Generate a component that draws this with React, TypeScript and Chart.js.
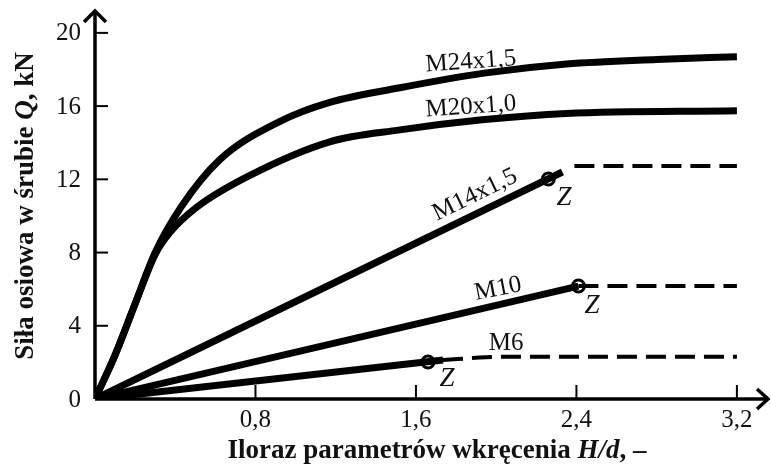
import { useEffect, useRef } from 'react';
import { Chart, registerables } from 'chart.js';

Chart.register(...registerables);

// ---- data ----
const X_TICKS = [0.8, 1.6, 2.4, 3.2];
const Y_TICKS = [0, 4, 8, 12, 16, 20];

const M24_X = [0, 0.1, 0.2, 0.3, 0.43, 0.62, 0.92, 1.17, 1.52, 1.94, 2.35, 2.8, 3.2];
const M24_Y = [0, 2.4, 5.2, 8.0, 10.5, 13.05, 15.15, 16.2, 17.0, 17.8, 18.3, 18.55, 18.7];

const M20_X = [0, 0.1, 0.2, 0.3, 0.37, 0.51, 0.76, 1.17, 1.52, 1.93, 2.35, 3.2];
const M20_Y = [0, 2.4, 5.2, 7.9, 9.05, 10.5, 12.15, 14.05, 14.7, 15.25, 15.6, 15.75];

const M14_SOLID_X = [0, 2.33];
const M14_SOLID_Y = [0, 12.4];
const M14_DASH_X = [2.39, 3.2];
const M14_DASH_Y = [12.73, 12.73];

const M10_SOLID_X = [0, 2.41];
const M10_SOLID_Y = [0, 6.17];
const M10_DASH_X = [2.41, 3.2];
const M10_DASH_Y = [6.17, 6.17];

const M6_SOLID_X = [0, 1.735];
const M6_SOLID_Y = [0, 2.13];
const M6_DASH_X = [1.735, 1.95, 2.05, 3.2];
const M6_DASH_Y = [2.13, 2.28, 2.31, 2.31];

const Z_X = [2.26, 2.41, 1.66];
const Z_Y = [12.02, 6.17, 2.02];

// annotation labels (anchor in data units)
const CURVE_LABELS = ['M24x1,5', 'M20x1,0', 'M14x1,5', 'M10', 'M6'];
const CURVE_LABEL_X = [1.874, 1.874, 1.894, 2.009, 2.049];
const CURVE_LABEL_Y = [18.42, 15.96, 11.15, 6.01, 3.06];
const CURVE_LABEL_ANGLE = [-4, -4, -26, -11, 0];

const Z_LABEL_X = [2.338, 2.478, 1.755];
const Z_LABEL_Y = [10.98, 5.08, 1.12];

const pts = (xs: number[], ys: number[]) => xs.map((x, i) => ({ x, y: ys[i] }));

const SERIF = '"Liberation Serif", "Times New Roman", serif';
const INK = '#111';

Chart.defaults.font.family = 'Liberation Serif';

function drawRich(ctx: CanvasRenderingContext2D, parts: { t: string; i?: boolean }[], cx: number, cy: number, size: number) {
  const fonts = parts.map(p => `${p.i ? 'italic ' : ''}bold ${size}px ${SERIF}`);
  let total = 0;
  parts.forEach((p, k) => { ctx.font = fonts[k]; total += ctx.measureText(p.t).width; });
  let x = cx - total / 2;
  ctx.textAlign = 'left';
  ctx.textBaseline = 'alphabetic';
  parts.forEach((p, k) => { ctx.font = fonts[k]; ctx.fillText(p.t, x, cy); x += ctx.measureText(p.t).width; });
}

const decorPlugin = {
  id: 'decor',
  beforeDatasetsDraw(chart: any) {
    const { ctx, chartArea } = chart;
    const xs = chart.scales.x;
    const ys = chart.scales.y;
    const L = chartArea.left, B = chartArea.bottom, R = chartArea.right, T = chartArea.top;
    ctx.save();
    ctx.strokeStyle = '#000';
    ctx.lineCap = 'butt';
    // tick marks (inward)
    ctx.lineWidth = 2;
    Y_TICKS.forEach(v => {
      if (v === 0) return;
      const y = ys.getPixelForValue(v);
      ctx.beginPath(); ctx.moveTo(L, y); ctx.lineTo(L + 13, y); ctx.stroke();
    });
    X_TICKS.forEach(v => {
      const x = xs.getPixelForValue(v);
      ctx.beginPath(); ctx.moveTo(x, B); ctx.lineTo(x, B - 14); ctx.stroke();
    });
    // y tick labels from the y scale
    ctx.fillStyle = INK;
    ctx.font = `25px ${SERIF}`;
    ctx.textAlign = 'right';
    ctx.textBaseline = 'middle';
    Y_TICKS.forEach(v => {
      ctx.fillText(String(v), L - 14, ys.getPixelForValue(v) + 1);
    });
    // axes
    ctx.lineWidth = 3.5;
    ctx.beginPath(); ctx.moveTo(L, B); ctx.lineTo(L, T + 1); ctx.stroke();
    ctx.beginPath(); ctx.moveTo(L, B); ctx.lineTo(R - 1, B); ctx.stroke();
    // arrows
    ctx.lineJoin = 'miter';
    ctx.beginPath(); ctx.moveTo(L - 11, T + 12); ctx.lineTo(L, T + 1); ctx.lineTo(L + 11, T + 12); ctx.stroke();
    ctx.beginPath(); ctx.moveTo(R - 12, B - 10); ctx.lineTo(R - 1, B); ctx.lineTo(R - 12, B + 10); ctx.stroke();
    ctx.restore();
  },
  afterDraw(chart: any) {
    const { ctx } = chart;
    const xs = chart.scales.x;
    const ys = chart.scales.y;
    ctx.save();
    ctx.fillStyle = INK;
    // curve labels
    CURVE_LABELS.forEach((t, i) => {
      const px = xs.getPixelForValue(CURVE_LABEL_X[i]);
      const py = ys.getPixelForValue(CURVE_LABEL_Y[i]);
      ctx.save();
      ctx.translate(px, py);
      ctx.rotate((CURVE_LABEL_ANGLE[i] * Math.PI) / 180);
      ctx.font = `25px ${SERIF}`;
      ctx.textAlign = 'center';
      ctx.textBaseline = 'middle';
      ctx.fillText(t, 0, 0);
      ctx.restore();
    });
    // Z labels
    Z_LABEL_X.forEach((v, i) => {
      const px = xs.getPixelForValue(v);
      const py = ys.getPixelForValue(Z_LABEL_Y[i]);
      ctx.font = `italic 27px ${SERIF}`;
      ctx.textAlign = 'center';
      ctx.textBaseline = 'middle';
      ctx.fillText('Z', px, py);
    });
    // axis titles
    drawRich(ctx, [{ t: 'Iloraz parametrów wkręcenia ' }, { t: 'H/d', i: true }, { t: ', –' }], 437, 458, 27);
    ctx.save();
    ctx.translate(33, 206);
    ctx.rotate(-Math.PI / 2);
    drawRich(ctx, [{ t: 'Siła osiowa w śrubie ' }, { t: 'Q', i: true }, { t: ', kN' }], 0, 0, 27);
    ctx.restore();
    ctx.restore();
  },
};

export default function App() {
  const ref = useRef<HTMLCanvasElement | null>(null);
  useEffect(() => {
    document.body.style.margin = '0';
    const canvas = ref.current;
    if (!canvas) return;
    const solid = (data: any[], mono = false) => ({
      data,
      borderColor: '#000',
      borderWidth: 7,
      pointRadius: 0,
      fill: false,
      cubicInterpolationMode: mono ? 'monotone' : 'default',
      tension: 0,
      borderCapStyle: 'butt',
    });
    const dashed = (data: any[], mono = false) => ({
      data,
      borderColor: '#000',
      borderWidth: 4,
      borderDash: [20, 9],
      pointRadius: 0,
      fill: false,
      cubicInterpolationMode: mono ? 'monotone' : 'default',
      tension: 0,
      borderCapStyle: 'butt',
    });
    const chart = new Chart(canvas, {
      type: 'line',
      data: {
        datasets: [
          solid(pts(M24_X, M24_Y), true),
          solid(pts(M20_X, M20_Y), true),
          solid(pts(M14_SOLID_X, M14_SOLID_Y)),
          dashed(pts(M14_DASH_X, M14_DASH_Y)),
          solid(pts(M10_SOLID_X, M10_SOLID_Y)),
          dashed(pts(M10_DASH_X, M10_DASH_Y)),
          solid(pts(M6_SOLID_X, M6_SOLID_Y)),
          dashed(pts(M6_DASH_X, M6_DASH_Y), true),
          {
            data: pts(Z_X, Z_Y),
            showLine: false,
            pointRadius: 6,
            pointBorderWidth: 3,
            pointBackgroundColor: 'rgba(0,0,0,0)',
            pointBorderColor: '#000',
            borderColor: '#000',
          },
        ] as any,
      },
      options: {
        animation: false,
        responsive: false,
        maintainAspectRatio: false,
        events: [],
        layout: { autoPadding: false, padding: { left: 0, right: 2, top: 10, bottom: 0 } },
        plugins: { legend: { display: false }, tooltip: { enabled: false } },
        scales: {
          x: {
            type: 'linear',
            min: 0,
            max: 3.36,
            grid: { display: false, drawTicks: false },
            border: { display: false },
            afterBuildTicks: (s: any) => { s.ticks = X_TICKS.map(v => ({ value: v })); },
            afterFit: (s: any) => { s.height = 66; },
            ticks: {
              color: INK,
              font: { family: 'Liberation Serif', size: 25 },
              padding: 6,
              maxRotation: 0,
              autoSkip: false,
              callback: (v: any) => Number(v).toFixed(1).replace('.', ','),
            },
          },
          y: {
            type: 'linear',
            min: 0,
            max: 21.25,
            grid: { display: false, drawTicks: false },
            border: { display: false },
            afterBuildTicks: (s: any) => { s.ticks = Y_TICKS.map(v => ({ value: v })); },
            afterFit: (s: any) => { s.width = 95; },
            ticks: { display: false },
          },
        },
      },
      plugins: [decorPlugin],
    });
    return () => chart.destroy();
  }, []);
  return (
    <div style={{ width: 771, height: 465 }}>
      <canvas ref={ref} width={771} height={465} style={{ display: 'block' }} />
    </div>
  );
}
